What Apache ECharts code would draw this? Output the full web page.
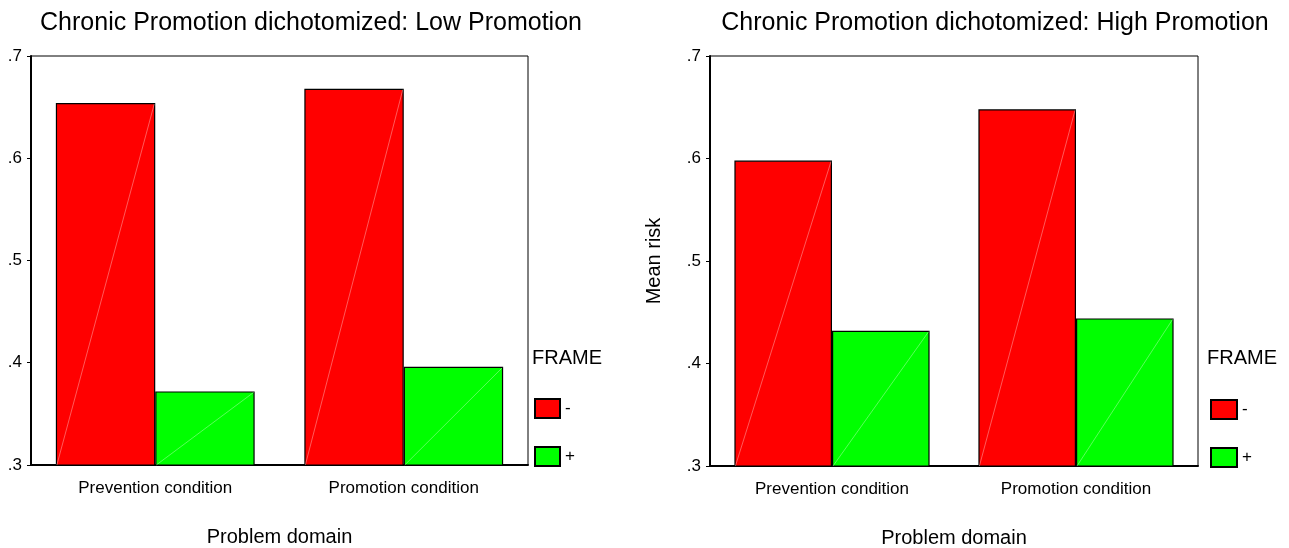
<!DOCTYPE html>
<html>
	<head>
		<meta charset="utf-8">
		<title>Mean risk by problem domain</title>
		<script src="https://cdn.jsdelivr.net/npm/echarts@6/dist/echarts.min.js"></script>
	</head>
	<body style="margin: 0;">
		<div id="box" style="width: 1289px;height: 548px;"></div>
		<script>
			var categories = ['Prevention condition', 'Promotion condition']
			var frameNames = ['-', '+']
			var frameColors = ['#ff0000', '#00ff00']
			var panelTitles = ['Chronic Promotion dichotomized: Low Promotion', 'Chronic Promotion dichotomized: High Promotion']
			// mean risk, [frame -, frame +] per panel
			var lowMinus = [0.654, 0.668]
			var lowPlus = [0.372, 0.396]
			var highMinus = [0.598, 0.648]
			var highPlus = [0.432, 0.444]
			var yTicks = [0.3, 0.4, 0.5, 0.6, 0.7]

			var font = 'Arial, "Liberation Sans", sans-serif'
			var panels = [[lowMinus, lowPlus], [highMinus, highPlus]]
			var mCharts = echarts.init(document.querySelector('#box'))

			// thin white diagonal the old SPSS output draws through each bar
			function diagonal(params, api) {
				var i = api.value(0)
				var v = api.value(1)
				var s = api.value(2)
				var top = api.coord([i, v])
				var bottom = api.coord([i, yTicks[0]])
				var band = api.size([1, 0])[0]
				var w = band * 0.4
				var x0 = top[0] - band * 0.4 + s * w
				return {
					type: 'line',
					shape: { x1: x0 + 1, y1: bottom[1], x2: x0 + w - 1, y2: top[1] + 1 },
					style: { stroke: 'rgba(255,255,255,0.5)', lineWidth: 0.7 },
					silent: true
				}
			}

			var grids = [
				{ left: 31, top: 56, width: 497, height: 409 },
				{ left: 710, top: 56, width: 488, height: 410 }
			]
			var series = []
			panels.forEach(function(p, g) {
				p.forEach(function(vals, s) {
					series.push({
						type: 'bar',
						name: frameNames[s],
						xAxisIndex: g,
						yAxisIndex: g,
						data: vals,
						barGap: 0,
						barCategoryGap: '20%',
						itemStyle: { color: frameColors[s], borderColor: '#000', borderWidth: 1.2 },
						emphasis: { disabled: true }
					})
				})
				var diag = []
				p.forEach(function(vals, s) {
					vals.forEach(function(v, i) { diag.push([i, v, s]) })
				})
				series.push({
					type: 'custom',
					xAxisIndex: g,
					yAxisIndex: g,
					data: diag,
					renderItem: diagonal,
					silent: true,
					z: 5
				})
			})

			var option = {
				animation: false,
				textStyle: { fontFamily: font },
				title: [
					{ text: panelTitles[0], left: 306, top: 6, textAlign: 'center',
						textStyle: { fontSize: 25, fontWeight: 'normal', color: '#000', fontFamily: font } },
					{ text: panelTitles[1], left: 990, top: 6, textAlign: 'center',
						textStyle: { fontSize: 25, fontWeight: 'normal', color: '#000', fontFamily: font } },
					{ text: 'FRAME', left: 527, top: 343,
						textStyle: { fontSize: 20, fontWeight: 'normal', color: '#000', fontFamily: font } },
					{ text: 'FRAME', left: 1202, top: 343,
						textStyle: { fontSize: 20, fontWeight: 'normal', color: '#000', fontFamily: font } }
				],
				legend: [
					{ data: frameNames, orient: 'vertical', left: 534, top: 398, itemWidth: 25, itemHeight: 19, itemGap: 27,
						icon: 'rect', padding: 0, textStyle: { fontSize: 17, color: '#000', fontFamily: font } },
					{ data: frameNames, orient: 'vertical', left: 1210, top: 399, itemWidth: 26, itemHeight: 19, itemGap: 27,
						icon: 'rect', padding: 0, textStyle: { fontSize: 17, color: '#000', fontFamily: font } }
				],
				grid: grids.map(function(gr) {
					return Object.assign({ show: true, borderColor: '#000', borderWidth: 1, backgroundColor: 'transparent',
						containLabel: false, outerBoundsMode: 'none' }, gr)
				}),
				xAxis: [0, 1].map(function(g) {
					return {
						type: 'category',
						gridIndex: g,
						data: categories,
						name: 'Problem domain',
						nameLocation: 'middle',
						nameGap: 62,
						nameTextStyle: { fontSize: 20, color: '#000', fontFamily: font },
						axisLine: { lineStyle: { color: '#000', width: 2 } },
						axisTick: { alignWithLabel: true, length: 5, lineStyle: { color: '#000' } },
						axisLabel: { margin: 15, fontSize: 17, color: '#000', fontFamily: font },
						splitLine: { show: false }
					}
				}),
				yAxis: [0, 1].map(function(g) {
					return {
						type: 'value',
						gridIndex: g,
						min: yTicks[0],
						max: yTicks[yTicks.length - 1],
						interval: 0.1,
						name: g === 1 ? 'Mean risk' : '',
						nameLocation: 'middle',
						nameGap: 46,
						nameTextStyle: { fontSize: 20, color: '#000', fontFamily: font },
						axisLine: { show: true, lineStyle: { color: '#000', width: 2 } },
						axisTick: { show: true, length: 4, lineStyle: { color: '#000' } },
						axisLabel: {
							margin: 9, fontSize: 17, color: '#000', fontFamily: font,
							formatter: function(v) { return v.toFixed(1).replace(/^0/, '') }
						},
						splitLine: { show: false }
					}
				}),
				series: series
			}
			mCharts.setOption(option)
		</script>
	</body>
</html>
